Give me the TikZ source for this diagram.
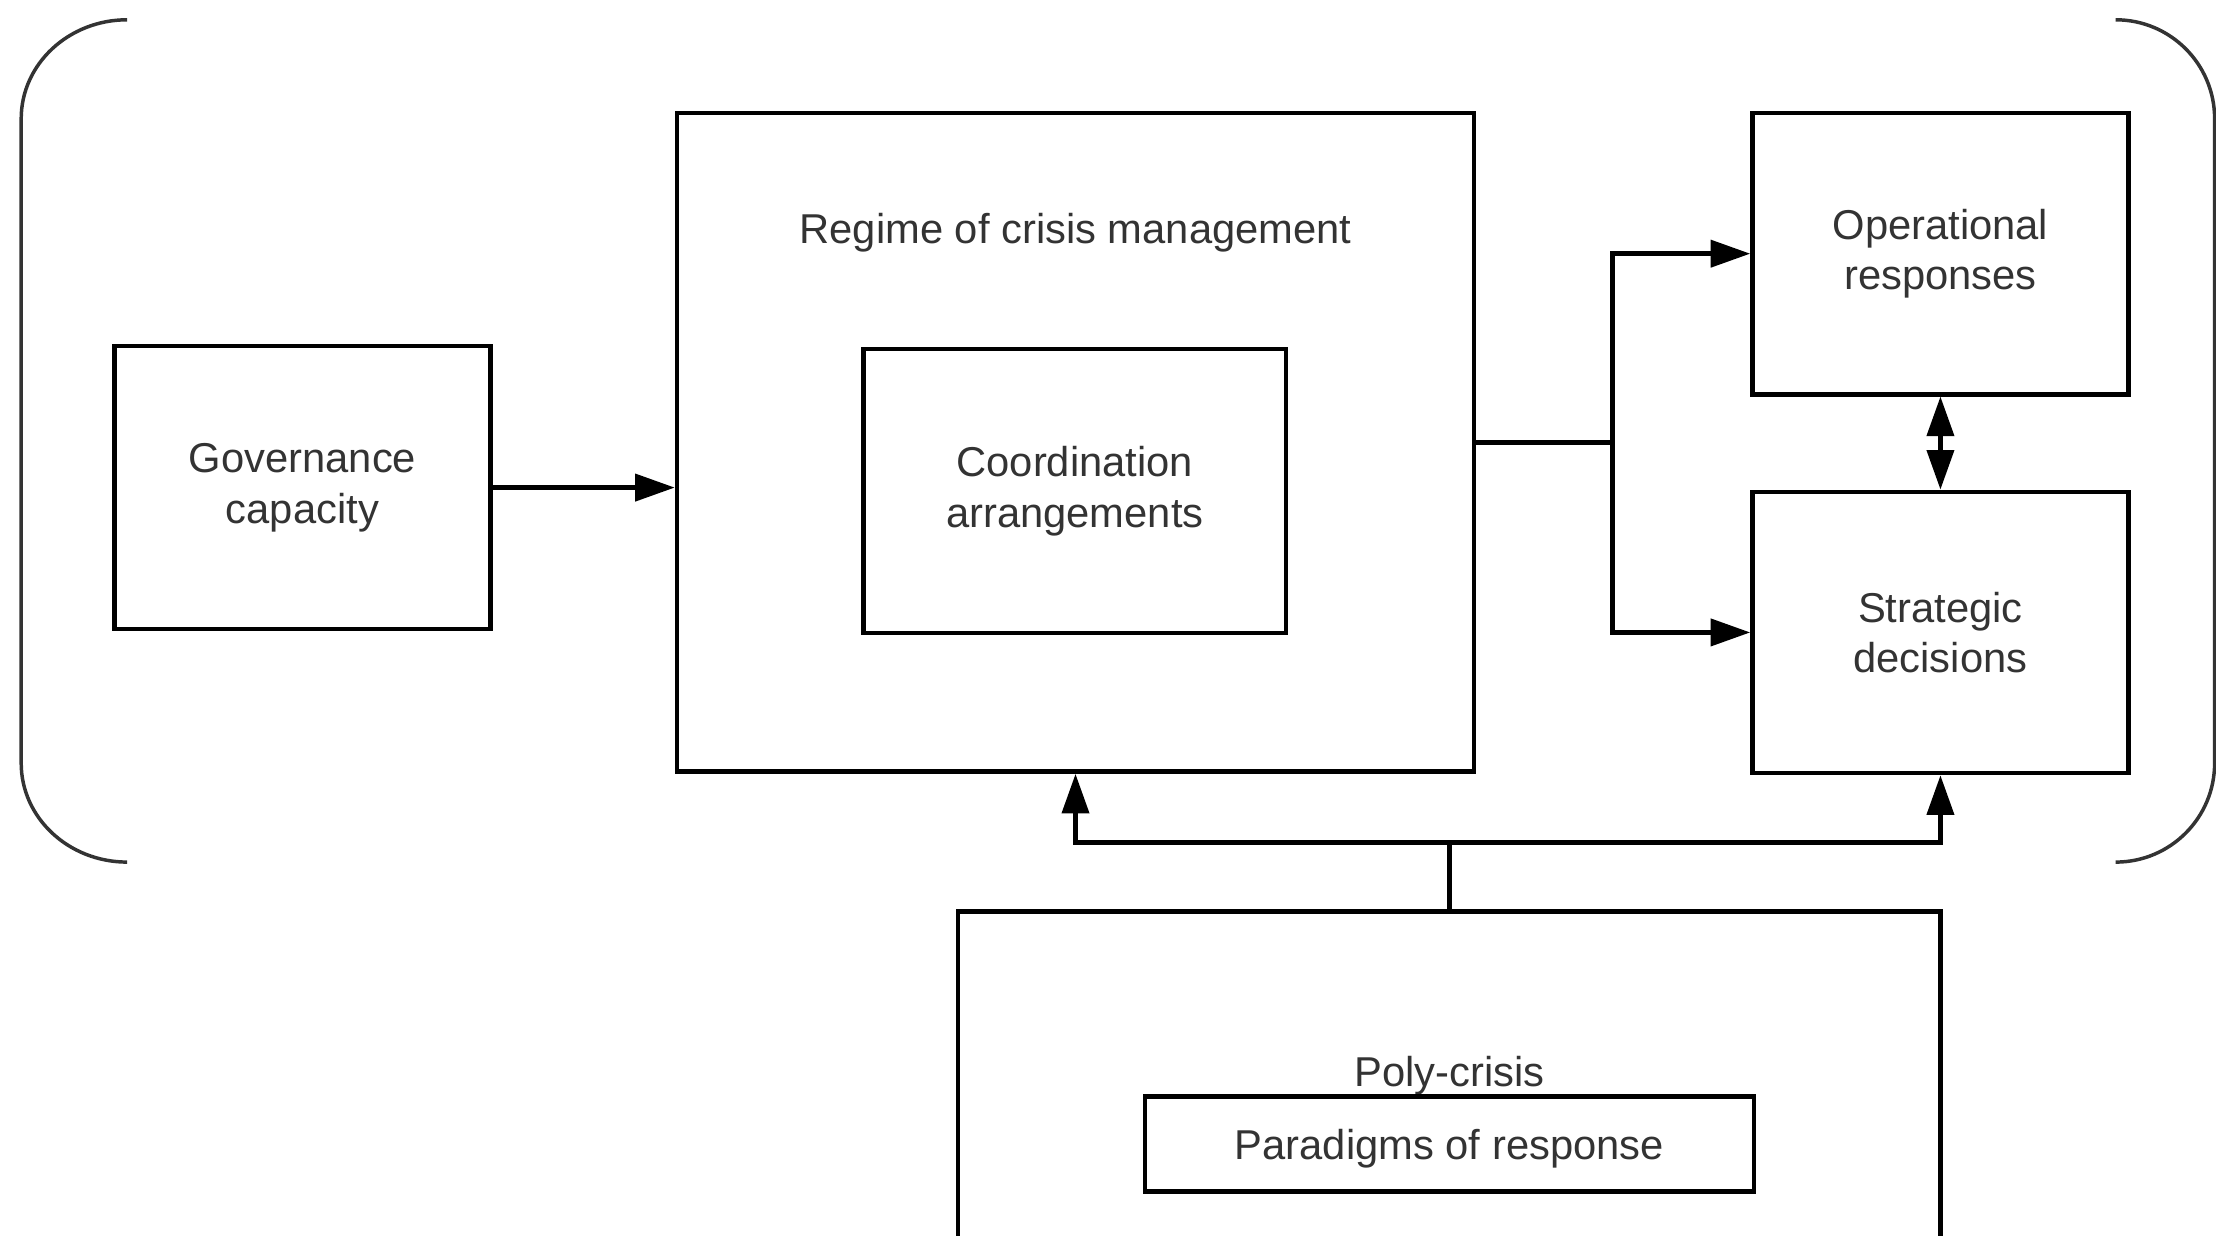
\documentclass[tikz,border=0pt]{standalone}
\usepackage{fontspec}
\setmainfont{Liberation Sans}
\usepackage{xcolor}
\usepackage{tikz}
\usetikzlibrary{calc,arrows.meta}
\definecolor{bg}{HTML}{FFFFFF}
\definecolor{line}{HTML}{000000}
\definecolor{ink}{HTML}{333333}
\definecolor{bracket}{HTML}{333333}
\tikzset{
  box/.style={draw=line, line width=0.9pt, inner sep=0pt, align=center, text=ink, font=\fontsize{8.4}{10.2}\selectfont},
  lab/.style={text=ink, inner sep=0pt, font=\fontsize{8.4}{10.2}\selectfont},
  conn/.style={draw=line, line width=0.9pt},
  arr/.style={draw=line, line width=0.9pt, -{Triangle[length=2.8mm,width=1.9mm]}},
  dblarr/.style={draw=line, line width=0.9pt, {Triangle[length=2.8mm,width=1.9mm]}-{Triangle[length=2.8mm,width=1.9mm]}},
  brace/.style={draw=bracket, line width=0.7pt},
}
\begin{document}
\begin{tikzpicture}
  \useasboundingbox[fill=bg] (0,0) rectangle (15.68,8.74);
  \draw[brace] (0.90,8.60) arc[start angle=90, end angle=180, x radius=0.75, y radius=0.70]
    -- (0.15,3.34) arc[start angle=180, end angle=270, x radius=0.75, y radius=0.70];
  \draw[brace] (14.97,8.60) arc[start angle=90, end angle=0, x radius=0.70, y radius=0.70]
    -- (15.67,3.34) arc[start angle=0, end angle=-90, x radius=0.70, y radius=0.70];
  \node[box, minimum width=2.66cm, minimum height=2.00cm] (gov) at (2.14,5.29) {Governance\\capacity};
  \node[box, minimum width=5.64cm, minimum height=4.66cm] (reg) at (7.61,5.61) {};
  \node[lab] (regtitle) at (7.61,7.09) {Regime of crisis management};
  \node[box, minimum width=2.99cm, minimum height=2.01cm] (coord) at (7.605,5.265) {Coordination\\arrangements};
  \node[box, minimum width=2.66cm, minimum height=1.99cm] (op) at (13.73,6.945) {Operational\\responses};
  \node[box, minimum width=2.66cm, minimum height=1.99cm, text depth=0pt] (strat) at (13.73,4.265) {Strategic\\decisions};
  \node[box, minimum width=6.95cm, minimum height=2.49cm] (poly) at (10.255,1.045) {};
  \node[lab] (polytitle) at (10.255,1.13) {Poly-crisis};
  \node[box, minimum width=4.31cm, minimum height=0.67cm, text depth=0pt] (para) at (10.255,0.645) {Paradigms of response};
  \coordinate (rj) at (11.41,5.61);
  \coordinate (pj) at (10.255,2.78);
  \draw[arr] (gov.east) -- (gov.east -| reg.west);
  \draw[conn] (reg.east) -- (rj);
  \draw[arr] (rj) |- (op.west);
  \draw[arr] (rj) |- (strat.west);
  \draw[dblarr] (op.south) -- (strat.north);
  \draw[conn] (poly.north) -- (pj);
  \draw[arr] (pj) -| (reg.south);
  \draw[arr] (pj) -| (strat.south);
\end{tikzpicture}
\end{document}
